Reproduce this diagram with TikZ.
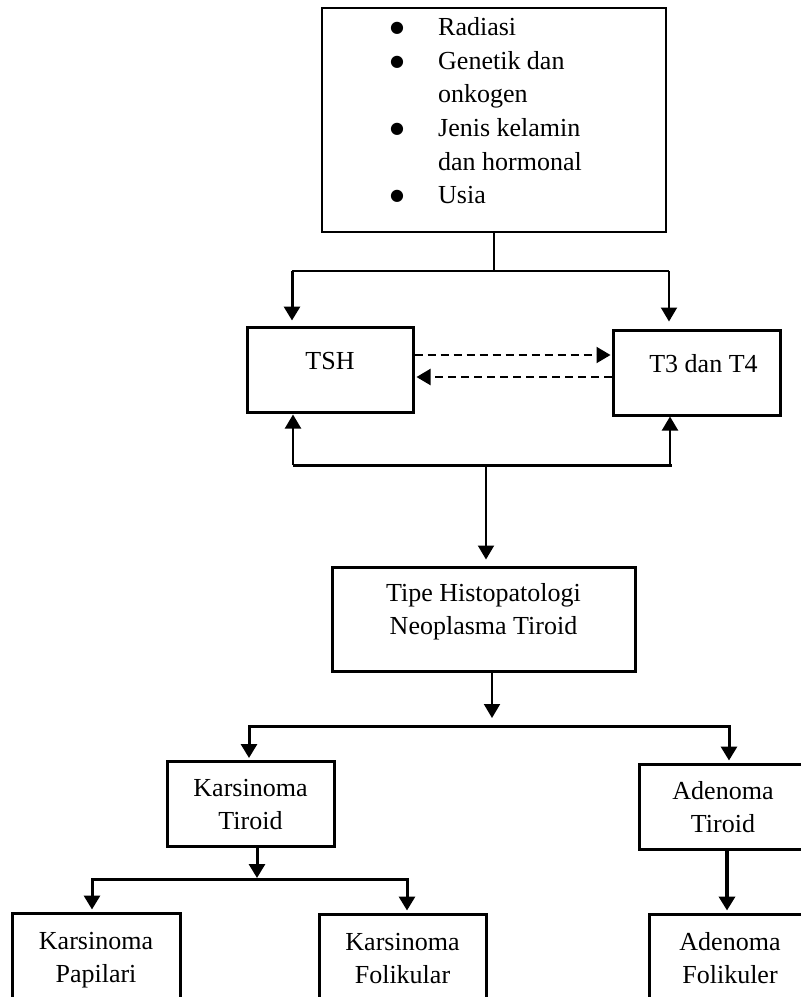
\documentclass[tikz,border=0pt]{standalone}
\usepackage{fontspec}
\setmainfont{Liberation Serif}
\newfontfamily\dejavu{DejaVu Sans}
\usetikzlibrary{arrows.meta}
\newcommand\dfont{\fontsize{26pt}{33pt}\selectfont}
\newcommand\lfont{\fontsize{26pt}{33.6pt}\selectfont}
\newcommand\mv[3]{\raisebox{#2}[\height][\depth]{\hspace*{#1}#3\hspace*{-#1}}}
\newcommand\tworow[2]{\begin{tabular}{@{}c@{}}#1\\#2\end{tabular}}
\newcommand\onerow[1]{\begin{tabular}{@{}c@{}}#1\end{tabular}}
\newcommand\bul{\makebox[0pt]{\raisebox{3pt}{\dejavu\fontsize{16pt}{16pt}\selectfont ●}}\hspace{41pt}}
\newcommand\nobul{\hspace{41pt}}
\tikzset{
  box/.style={draw, line width=3pt, rectangle, inner sep=0pt, font=\dfont},
  arrowed/.style={-{Triangle[width=16pt,length=14pt]}},
  twoarrowed/.style={{Triangle[width=16pt,length=14pt]}-{Triangle[width=16pt,length=14pt]}},
  dashedarrow/.style={line width=2pt, dash pattern=on 8pt off 5pt, arrowed},
}
\begin{document}
\begin{tikzpicture}[x=1pt,y=-1pt]
\useasboundingbox (0,0) rectangle (801,997);
\fill[white] (0,0) rectangle (801,997);
\clip (0,0) rectangle (801,997);

% nodes
\node[draw, line width=2pt, rectangle, inner sep=0pt, minimum width=344pt, minimum height=224pt] (factors) at (494,120) {};
\node[anchor=north west, inner sep=0pt, font=\lfont] (list) at (397,12) {\begin{tabular}{@{}l@{}}
\bul Radiasi\\
\bul Genetik dan\\
\nobul onkogen\\
\bul Jenis kelamin\\
\nobul dan hormonal\\
\bul Usia
\end{tabular}};

\node[box, minimum width=166pt, minimum height=85pt] (TSH) at (330,369.5) {\mv{0pt}{7pt}{\onerow{TSH}}};
\node[box, minimum width=167pt, minimum height=85pt] (T3) at (696.5,372.5) {\mv{7pt}{6.5pt}{\onerow{T3 dan T4}}};
\node[box, minimum width=303pt, minimum height=104pt] (Tipe) at (483.5,619) {\mv{0pt}{8pt}{\tworow{Tipe Histopatologi}{Neoplasma Tiroid}}};
\node[box, minimum width=167pt, minimum height=85pt] (KT) at (250.5,803.5) {\mv{0pt}{-3pt}{\tworow{Karsinoma}{Tiroid}}};
\node[box, minimum width=168pt, minimum height=85pt] (AT) at (723,806.5) {\mv{0pt}{-3pt}{\tworow{Adenoma}{Tiroid}}};
\node[box, minimum width=168pt, minimum height=92pt] (KP) at (96,959) {\tworow{Karsinoma}{Papilari}};
\node[box, minimum width=167pt, minimum height=92pt] (KF) at (402.5,960) {\tworow{Karsinoma}{Folikular}};
\node[box, minimum width=162pt, minimum height=92pt] (AF) at (730,960) {\tworow{Adenoma}{Folikuler}};

% coordinates
\coordinate (jT) at (494,271);
\coordinate (jTL) at (292,271);
\coordinate (jTR) at (669,271);
\coordinate (y355) at (0,355);
\coordinate (y377) at (0,377);
\coordinate (jBL) at (293,465);
\coordinate (jBR) at (672,465);
\coordinate (jBR2) at (670,465);
\coordinate (jBM) at (486,465);
\coordinate (jM) at (492,718);
\coordinate (jKL) at (249,726);
\coordinate (jKR) at (729,726);
\coordinate (jK2) at (257,878);
\coordinate (jPL) at (92,879);
\coordinate (jPR) at (407,879);
\coordinate (jA) at (727,880);

% top connectors
\draw[line width=1.5pt] (factors.south) -- (jT);
\draw[line width=1.5pt] (jTL) -- (jTR);
\draw[line width=3pt, arrowed, shorten >=5pt] (jTL) -- (jTL |- TSH.north);
\draw[line width=2pt, arrowed, shorten >=7pt] (jTR) -- (jTR |- T3.north);

% dashed feedback
\draw[dashedarrow, shorten >=1pt] (TSH.east |- y355) -- (T3.west |- y355);
\draw[dashedarrow, shorten >=2pt] (T3.west |- y377) -- (TSH.east |- y377);

% bottom bus
\draw[line width=3pt] (jBL) -- (jBR);
\draw[line width=2pt, arrowed, shorten >=1pt] (jBL) -- (jBL |- TSH.south);
\draw[line width=2pt, arrowed] (jBR2) -- (jBR2 |- T3.south);
\draw[line width=2pt, arrowed, shorten >=6pt] (jBM) -- (jBM |- Tipe.north);

% lower tree
\draw[line width=2pt, arrowed] (jM |- Tipe.south) -- (jM);
\draw[line width=3pt, twoarrowed, shorten <=1.5pt, shorten >=2pt] (jKL |- KT.north) -- (jKL) -- (jKR) -- (jKR |- AT.north);
\draw[line width=3pt, arrowed] (jK2 |- KT.south) -- (jK2);
\draw[line width=3pt, twoarrowed, shorten <=2pt, shorten >=2pt] (jPL |- KP.north) -- (jPL) -- (jPR) -- (jPR |- KF.north);
\draw[line width=3.5pt, arrowed, shorten >=2pt] (jA |- AT.south) -- (jA |- AF.north);
\end{tikzpicture}
\end{document}
